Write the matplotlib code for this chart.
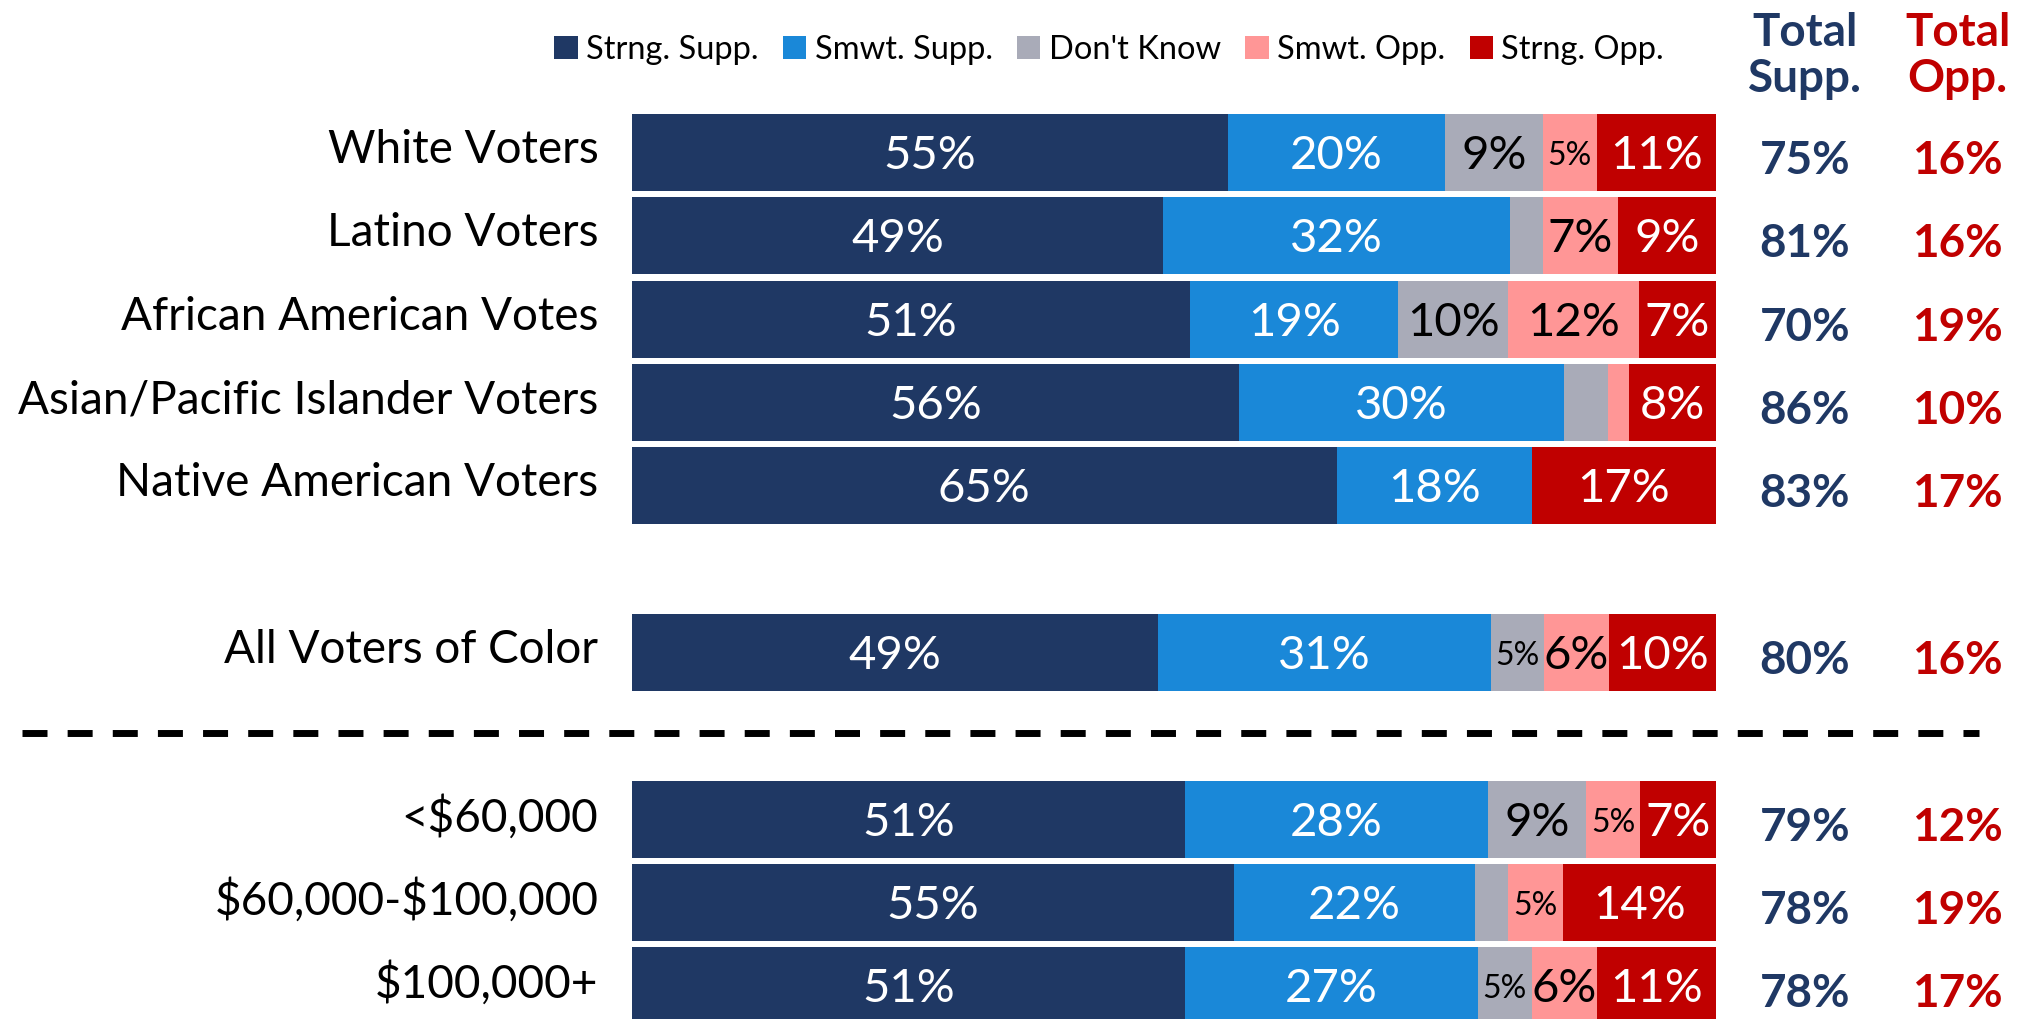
import matplotlib
matplotlib.use("Agg")
import matplotlib.pyplot as plt
from matplotlib.patches import Patch

plt.rcParams["font.family"] = ["Lato", "DejaVu Sans"]
plt.rcParams["text.parse_math"] = False

# data
CATEGORIES = [
    "White Voters",
    "Latino Voters",
    "African American Votes",
    "Asian/Pacific Islander Voters",
    "Native American Voters",
    "All Voters of Color",
    "<$60,000",
    "$60,000-$100,000",
    "$100,000+",
]
SLOTS = [0, 1, 2, 3, 4, 6, 8, 9, 10]   # vertical slot of each row (gaps between groups)

SERIES = ["Strng. Supp.", "Smwt. Supp.", "Don't Know", "Smwt. Opp.", "Strng. Opp."]
STRONG_SUPP = [55, 49, 51, 56, 65, 49, 51, 55, 51]
SMWT_SUPP = [20, 32, 19, 30, 18, 31, 28, 22, 27]
DONT_KNOW = [9, 3, 10, 4, 0, 5, 9, 3, 5]
SMWT_OPP = [5, 7, 12, 2, 0, 6, 5, 5, 6]
STRONG_OPP = [11, 9, 7, 8, 17, 10, 7, 14, 11]

TOTAL_SUPP = ["75%", "81%", "70%", "86%", "83%", "80%", "79%", "78%", "78%"]
TOTAL_OPP = ["16%", "16%", "19%", "10%", "17%", "16%", "12%", "19%", "17%"]

COLORS = ["#1F3864", "#1A88D8", "#A9ABB8", "#FF9696", "#C00000"]
TEXT_COLORS = ["white", "white", "black", "black", "white"]
NAVY = "#1F3864"
RED = "#C00000"

W, H, DPI = 2022, 1019, 100
fig = plt.figure(figsize=(W / DPI, H / DPI), dpi=DPI)

# axes placed in pixel terms: bars from x=632 to 1716, slot pitch ~83 px
pitch = 83.3
top_px = 152.5 - 0.5 * pitch
ax = fig.add_axes([632 / W, 0, (1716 - 632) / W, 1 - top_px / H])
ax.set_xlim(0, 100)
ax.set_ylim(10 + (H - 986) / pitch, -0.5)
ax.axis("off")

series_vals = [STRONG_SUPP, SMWT_SUPP, DONT_KNOW, SMWT_OPP, STRONG_OPP]
for i, y in enumerate(SLOTS):
    row = [s[i] for s in series_vals]
    total = sum(row)
    left = 0.0
    for k, v in enumerate(row):
        w = v / total * 100
        if w > 0:
            ax.barh(y, w, left=left, height=0.925, color=COLORS[k], linewidth=0)
            if v >= 5:
                fs = 23 if v == 5 else 34
                ax.text(left + w / 2, y + 0.04, f"{v}%", ha="center", va="center",
                        color=TEXT_COLORS[k], fontsize=fs)
        left += w

    ax.text(-3.1, y - 0.03, CATEGORIES[i], ha="right", va="center",
            fontsize=33, clip_on=False)
    ax.text(108.2, y + 0.1, TOTAL_SUPP[i], ha="center", va="center",
            fontsize=33, fontweight="bold", color=NAVY, clip_on=False)
    ax.text(122.3, y + 0.1, TOTAL_OPP[i], ha="center", va="center",
            fontsize=33, fontweight="bold", color=RED, clip_on=False)

# column headers
ax.text(108.2, -1.16, "Total\nSupp.", ha="center", va="center", fontsize=33,
        fontweight="bold", color=NAVY, linespacing=1.1, clip_on=False)
ax.text(122.3, -1.16, "Total\nOpp.", ha="center", va="center", fontsize=33,
        fontweight="bold", color=RED, linespacing=1.1, clip_on=False)

# dashed separator between groups
ax.plot([-56.3, 124.3], [6.97, 6.97], color="black", linewidth=5,
        dashes=(3.6, 2.9), solid_capstyle="butt", dash_capstyle="butt",
        clip_on=False)

handles = [Patch(facecolor=c, edgecolor="none") for c in COLORS]
fig.legend(handles, SERIES, loc="center", bbox_to_anchor=(1109 / W, 1 - 50 / H),
           ncol=5, frameon=False, fontsize=23.5, handlelength=0.72,
           handleheight=0.72, handletextpad=0.25, columnspacing=0.75,
           borderaxespad=0, borderpad=0)

fig.savefig("out.png", dpi=DPI)
